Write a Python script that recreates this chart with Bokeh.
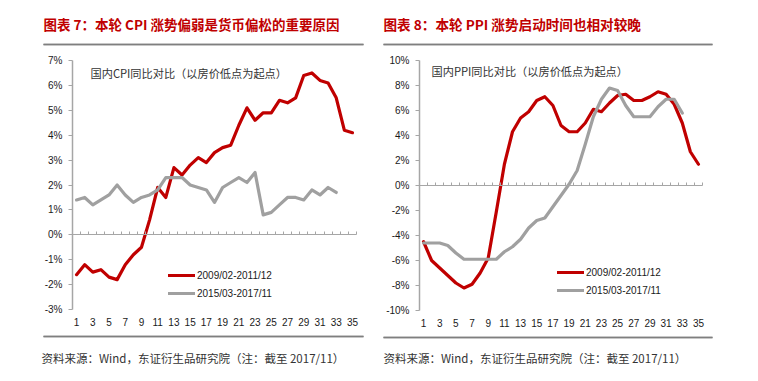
from bokeh.plotting import figure
from bokeh.layouts import row
from bokeh.models import (Range1d, FixedTicker, Label, Legend, LegendItem,
                          LinearAxis)
from bokeh.embed import file_html
from bokeh.resources import INLINE

# ---------------- data ----------------
months = list(range(1, 36))
x_tick_values = list(range(1, 36, 2))
x_tick_labels = [str(v) for v in x_tick_values]

series_names = ["2009/02-2011/12", "2015/03-2017/11"]

cpi_2009 = [-1.6, -1.2, -1.5, -1.4, -1.7, -1.8, -1.2, -0.8, -0.5, 0.6, 1.9,
            1.5, 2.7, 2.4, 2.8, 3.1, 2.9, 3.3, 3.5, 3.6, 4.4, 5.1, 4.6,
            4.9, 4.9, 5.4, 5.3, 5.5, 6.4, 6.5, 6.2, 6.1, 5.5, 4.2, 4.1]
cpi_2015 = [1.4, 1.5, 1.2, 1.4, 1.6, 2.0, 1.6, 1.3, 1.5, 1.6,
            1.8, 2.3, 2.3, 2.3, 2.0, 1.9, 1.8, 1.3, 1.9, 2.1, 2.3, 2.1,
            2.5, 0.8, 0.9, 1.2, 1.5, 1.5, 1.4, 1.8, 1.6, 1.9, 1.7]

ppi_2009 = [-4.5, -6.0, -6.6, -7.2, -7.8, -8.2, -7.9, -7.0, -5.8, -2.1, 1.7,
            4.3, 5.4, 5.9, 6.8, 7.1, 6.4, 4.8, 4.3, 4.3, 5.0, 6.1, 5.9,
            6.6, 7.2, 7.3, 6.8, 6.8, 7.1, 7.5, 7.3, 6.5, 5.0, 2.7, 1.7]
ppi_2015 = [-4.6, -4.6, -4.6, -4.8, -5.4, -5.9, -5.9, -5.9, -5.9, -5.9,
            -5.3, -4.9, -4.3, -3.4, -2.8, -2.6, -1.7, -0.8, 0.1, 1.2, 3.3, 5.5,
            6.9, 7.8, 7.6, 6.4, 5.5, 5.5, 5.5, 6.3, 6.9, 6.9, 5.8]

cpi_y_ticks = [-3, -2, -1, 0, 1, 2, 3, 4, 5, 6, 7]
cpi_y_labels = ["-3%", "-2%", "-1%", "0%", "1%", "2%", "3%", "4%", "5%", "6%", "7%"]
ppi_y_ticks = [-10, -8, -6, -4, -2, 0, 2, 4, 6, 8, 10]
ppi_y_labels = ["-10%", "-8%", "-6%", "-4%", "-2%", "0%", "2%", "4%", "6%", "8%", "10%"]

title_left = "图表 7：本轮 CPI 涨势偏弱是货币偏松的重要原因"
title_right = "图表 8：本轮 PPI 涨势启动时间也相对较晚"
note_left = "国内CPI同比对比（以房价低点为起点）"
note_right = "国内PPI同比对比（以房价低点为起点）"
source_text = "资料来源：Wind，东证衍生品研究院（注：截至 2017/11）"

RED = "#c00000"
GRAY = "#a0a0a0"
AXIS_GRAY = "#a6a6a6"
RULE_GRAY = "#7f7f7f"
CJK = "Noto Sans CJK SC"
NUM = "Liberation Sans"

W, H = 379, 380


def range_for(v0, v1, p0, p1, total):
    """Data range whose values v0, v1 land at pixels p0, p1 of a span of `total` px."""
    scale = (p1 - p0) / (v1 - v0)
    return Range1d(v0 - p0 / scale, v1 + (total - p1) / scale)


def px_to_data(rng, px, total):
    return rng.start + px * (rng.end - rng.start) / total


def make_panel(frame_px, y_ticks, y_labels, red_vals, gray_vals,
               title, note, legend_loc, text_pos):
    xl, xr, yb, yt = frame_px  # pixel positions (x from left, y from bottom)
    x_lo, x_hi = months[0] - 0.5, months[-1] + 0.5
    y_lo, y_hi = y_ticks[0], y_ticks[-1]
    xr_ = range_for(x_lo, x_hi, xl, xr, W)
    yr_ = range_for(y_lo, y_hi, yb, yt, H)
    p = figure(width=W, height=H, output_backend="svg", toolbar_location=None,
               x_range=xr_, y_range=yr_,
               x_axis_location=None, y_axis_location=None,
               min_border=0, min_border_left=0, min_border_right=0,
               min_border_top=0, min_border_bottom=0)
    p.outline_line_color = None
    p.grid.visible = False

    (tx, ty, tsize), (nx, ny), (fx, fy), (rl, rr, rt, rb) = text_pos

    # header / footer rules, drawn as bare axis lines (same style as the zero line axis)
    rx0, rx1 = px_to_data(xr_, rl, W), px_to_data(xr_, rr, W)
    for yy in (rt, rb):
        rule = LinearAxis(fixed_location=px_to_data(yr_, yy, H), bounds=(rx0, rx1),
                          ticker=FixedTicker(ticks=[rx0, rx1]),
                          axis_line_color=RULE_GRAY, axis_line_width=1.5,
                          major_tick_line_color=RULE_GRAY, major_tick_in=0,
                          major_tick_out=0, minor_tick_line_color=None,
                          major_label_text_alpha=0, major_label_text_font_size="1px")
        p.add_layout(rule, "below")

    # y axis
    yax = LinearAxis(fixed_location=x_lo, bounds=(y_lo, y_hi),
                     ticker=FixedTicker(ticks=y_ticks),
                     major_label_overrides={t: l for t, l in zip(y_ticks, y_labels)},
                     axis_line_color=AXIS_GRAY, axis_line_width=1.5,
                     major_tick_line_color=AXIS_GRAY, major_tick_out=4,
                     major_tick_in=0, minor_tick_line_color=None,
                     major_label_standoff=6, major_label_text_font=NUM,
                     major_label_text_font_size="10px",
                     major_label_text_color="#1a1a1a")
    p.add_layout(yax, "left")

    # x labels at the bottom
    xax = LinearAxis(fixed_location=y_lo, bounds=(x_lo, x_hi),
                     ticker=FixedTicker(ticks=x_tick_values),
                     major_label_overrides={t: l for t, l in zip(x_tick_values, x_tick_labels)},
                     axis_line_color=None, major_tick_line_color=None,
                     minor_tick_line_color=None, major_tick_out=0, major_tick_in=0,
                     major_label_standoff=8, major_label_text_font=NUM,
                     major_label_text_font_size="10px",
                     major_label_text_color="#1a1a1a")
    p.add_layout(xax, "below")

    # zero line with category boundary ticks
    bounds = [m - 0.5 for m in months] + [months[-1] + 0.5]
    zax = LinearAxis(fixed_location=0, bounds=(x_lo, x_hi),
                     ticker=FixedTicker(ticks=bounds),
                     axis_line_color=AXIS_GRAY, axis_line_width=1.2,
                     major_tick_line_color=AXIS_GRAY, major_tick_in=3,
                     major_tick_out=0, minor_tick_line_color=None,
                     major_label_text_alpha=0, major_label_text_font_size="1px")
    p.add_layout(zax, "below")

    r_red = p.line(months[:len(red_vals)], red_vals, line_color=RED,
                   line_width=3.2, line_join="round", line_cap="round")
    r_gray = p.line(months[:len(gray_vals)], gray_vals, line_color=GRAY,
                    line_width=3.2, line_join="round", line_cap="round")

    # same rules also as plain segments
    ry = [px_to_data(yr_, rt, H), px_to_data(yr_, rb, H)]
    p.segment(x0=[rx0, rx0], y0=ry, x1=[rx1, rx1], y1=ry,
              line_color=RULE_GRAY, line_width=1.5)

    legend = Legend(items=[LegendItem(label=series_names[0], renderers=[r_red]),
                           LegendItem(label=series_names[1], renderers=[r_gray])],
                    location=legend_loc, border_line_color=None,
                    background_fill_alpha=0, padding=0, margin=0, spacing=0,
                    glyph_width=27, glyph_height=18, label_height=18,
                    label_standoff=2, label_text_font=NUM,
                    label_text_font_size="10px", label_text_color="#1a1a1a")
    p.add_layout(legend)

    p.add_layout(Label(x=tx, y=ty, x_units="screen", y_units="screen",
                       text=title, text_font=CJK, text_font_size=tsize,
                       text_font_style="bold", text_color=RED,
                       text_baseline="middle", text_align="left"))
    p.add_layout(Label(x=nx, y=ny, x_units="screen", y_units="screen",
                       text=note, text_font=CJK, text_font_size="11.2px",
                       text_color="#333333", text_baseline="middle",
                       text_align="left"))
    p.add_layout(Label(x=fx, y=fy, x_units="screen", y_units="screen",
                       text=source_text, text_font=CJK, text_font_size="11.5px",
                       text_color="#333333", text_baseline="middle",
                       text_align="left"))
    return p


p_left = make_panel((72, 356, 71, 320), cpi_y_ticks, cpi_y_labels,
                    cpi_2009, cpi_2015, title_left, note_left, (168, 78),
                    ((43, 357, "13.5px"), (90, 308), (41, 23), (43, 363, 336, 44)))
p_right = make_panel((40, 323, 70, 320), ppi_y_ticks, ppi_y_labels,
                     ppi_2009, ppi_2015, title_right, note_right, (178, 81),
                     ((4, 357, "13.6px"), (52, 310), (4, 23), (4, 333, 336, 43)))

layout = row(p_left, p_right)
open("out.html", "w").write(file_html(layout, INLINE))
